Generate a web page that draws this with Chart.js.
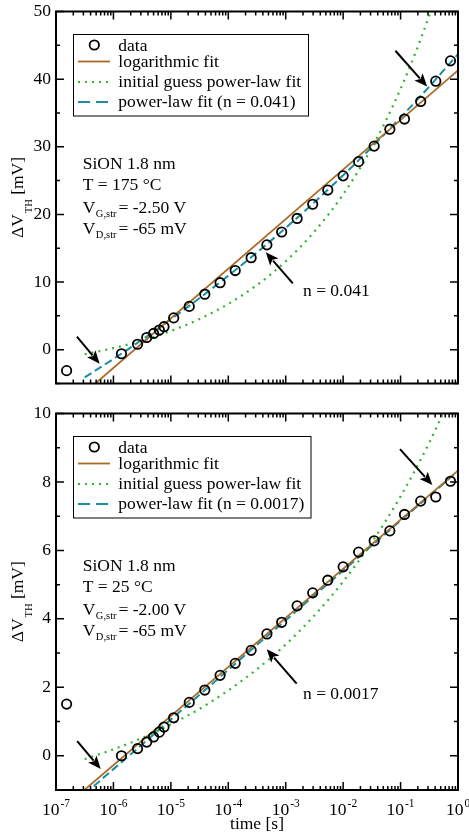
<!DOCTYPE html>
<html>
<head>
<meta charset="utf-8">
<script src="https://cdn.jsdelivr.net/npm/chart.js@4.4.1/dist/chart.umd.min.js"></script>
<style>
  html, body { margin: 0; padding: 0; background: #fff; }
  #wrap { position: relative; width: 469px; height: 836px; overflow: hidden; background: #fff; }
  #wrap canvas { position: absolute; left: 0; }
  #topPanel { top: -4px; }
  #bottomPanel { top: 398px; }
</style>
</head>
<body>
<div id="wrap">
  <canvas id="topPanel" width="469" height="403" style="width:469px;height:403px"></canvas>
  <canvas id="bottomPanel" width="469" height="438" style="width:469px;height:438px"></canvas>
</div>
<script>
// ---- measured threshold-voltage shift ----
const times = [1.53e-7, 1.38e-6, 2.63e-6, 3.8e-6, 5.0e-6, 6.3e-6, 7.6e-6, 1.12e-5, 2.09e-5, 3.9e-5,
               7.2e-5, 1.32e-4, 2.5e-4, 4.7e-4, 8.5e-4, 1.58e-3, 2.95e-3, 5.4e-3, 1.0e-2, 1.86e-2,
               3.47e-2, 6.5e-2, 0.117, 0.224, 0.41, 0.74];
const topData = [-3.1, -0.6, 0.8, 1.8, 2.4, 2.9, 3.4, 4.7, 6.4, 8.2,
                 9.9, 11.7, 13.6, 15.5, 17.4, 19.4, 21.5, 23.6, 25.7, 27.8,
                 30.1, 32.6, 34.1, 36.7, 39.7, 42.7];
const bottomData = [1.51, 0.0, 0.21, 0.40, 0.55, 0.69, 0.84, 1.11, 1.56, 1.92,
                    2.35, 2.70, 3.08, 3.56, 3.90, 4.38, 4.76, 5.13, 5.52, 5.95,
                    6.28, 6.57, 7.05, 7.44, 7.56, 8.02];

// ---- fitted curves ----
const logFitTimes = [3.16e-7, 1];
const topLogFit = [-6.36, 41.3];
const bottomLogFit = [-0.99, 8.33];

const fitTimes = [3.16e-7, 1e-6, 3.16e-6, 1e-5, 3.16e-5, 1e-4, 3.16e-4, 1e-3, 3.16e-3, 1e-2, 3.16e-2, 1e-1, 3.16e-1, 1];
const topGuessFit = [-0.67, 0.23, 1.35, 2.77, 4.54, 6.77, 9.56, 13.06, 17.46, 22.96, 29.88, 38.56, 49.44, 63.1];
const topPowerFit = [-4.09, -1.37, 1.49, 4.49, 7.63, 10.93, 14.38, 18.0, 21.8, 25.78, 29.95, 34.32, 38.9, 43.7];
const bottomGuessFit = [-0.10, 0.19, 0.52, 0.92, 1.37, 1.91, 2.53, 3.25, 4.10, 5.09, 6.24, 7.58, 9.15, 10.98];
const bottomPowerFit = [-1.12, -0.39, 0.33, 1.06, 1.78, 2.51, 3.24, 3.96, 4.69, 5.41, 6.14, 6.87, 7.59, 8.32];

// ---- labels ----
const decadeExponents = ['-7', '-6', '-5', '-4', '-3', '-2', '-1', '0'];
const topNames = ['data', 'logarithmic fit', 'initial guess power-law fit', 'power-law fit (n = 0.041)'];
const bottomNames = ['data', 'logarithmic fit', 'initial guess power-law fit', 'power-law fit (n = 0.0017)'];
const topNotes = ['SiON 1.8 nm', 'T = 175 °C', ['V', 'G,str', '= -2.50 V'], ['V', 'D,str', '= -65 mV']];
const bottomNotes = ['SiON 1.8 nm', 'T = 25 °C', ['V', 'G,str', '= -2.00 V'], ['V', 'D,str', '= -65 mV']];

// arrows: [t from, value from, t to, value to]
const topArrows = [[2.31e-7, 1.92, 5.75e-7, -2.07], [1.33e-3, 9.8, 4.5e-4, 14.4], [0.0813, 44.2, 0.29, 38.9]];
const bottomArrows = [[2.34e-7, 0.425, 6.0e-7, -0.385], [1.55e-3, 2.11, 4.68e-4, 3.11], [0.0977, 8.96, 0.357, 7.91]];
const topExponentNote = { t: 2.0e-3, v: 8.6, text: 'n = 0.041' };
const bottomExponentNote = { t: 2.0e-3, v: 1.78, text: 'n = 0.0017' };

// ---- styling ----
const SERIF = "'Liberation Serif', 'Times New Roman', serif";
const f = px => px + 'px ' + SERIF;
const COL_LOG = '#a86b26';
const COL_GUESS = '#2fb52f';
const COL_POWER = '#1a8da3';
const DASH_GUESS = [2, 5];
const DASH_POWER = [8, 4];

Chart.defaults.font.family = SERIF;
Chart.defaults.color = '#000';

function pts(xs, ys) { return xs.map((x, i) => ({ x: x, y: ys[i] })); }

function drawSubText(ctx, x, y, main, sub, rest, size, subSize, subDrop) {
  ctx.font = f(size);
  ctx.fillText(main, x, y);
  x += ctx.measureText(main).width + 0.5;
  ctx.font = f(subSize);
  ctx.fillText(sub, x, y + subDrop);
  x += ctx.measureText(sub).width + 2;
  ctx.font = f(size);
  ctx.fillText(rest, x, y);
}

function drawArrow(ctx, x0, y0, x1, y1) {
  const ang = Math.atan2(y1 - y0, x1 - x0);
  const L = 13, W = 5.5;
  const c = Math.cos(ang), s = Math.sin(ang);
  const bx = x1 - L * c, by = y1 - L * s;
  ctx.beginPath();
  ctx.moveTo(x0, y0);
  ctx.lineTo(bx + 2 * c, by + 2 * s);
  ctx.stroke();
  ctx.beginPath();
  ctx.moveTo(x1, y1);
  ctx.lineTo(bx - W * s, by + W * c);
  ctx.lineTo(bx + 3 * c, by + 3 * s);
  ctx.lineTo(bx + W * s, by - W * c);
  ctx.closePath();
  ctx.fill();
}

const panelDecor = {
  id: 'panelDecor',
  afterDraw(chart, args, o) {
    const ctx = chart.ctx, a = chart.chartArea;
    const xs = chart.scales.x, ys = chart.scales.y;
    ctx.save();
    ctx.fillStyle = '#000';
    ctx.strokeStyle = '#000';

    // inward tick marks on all four sides
    ctx.lineWidth = 1.5;
    ctx.beginPath();
    for (let d = -7; d <= 0; d++) {
      for (let m = 1; m <= 9; m++) {
        if (d === 0 && m > 1) break;
        const x = xs.getPixelForValue(m * Math.pow(10, d));
        const len = m === 1 ? 8 : 4;
        ctx.moveTo(x, a.bottom); ctx.lineTo(x, a.bottom - len);
        ctx.moveTo(x, a.top); ctx.lineTo(x, a.top + len);
      }
    }
    for (let k = 0; o.yMin + k * o.minor <= o.yMax + 1e-9; k++) {
      const v = o.yMin + k * o.minor;
      const y = ys.getPixelForValue(v);
      const isMajor = Math.abs(Math.round(v / o.major) * o.major - v) < 1e-9;
      const len = isMajor ? 8 : 4;
      ctx.moveTo(a.left, y); ctx.lineTo(a.left + len, y);
      ctx.moveTo(a.right, y); ctx.lineTo(a.right - len, y);
    }
    ctx.stroke();

    // frame
    ctx.lineWidth = 2;
    ctx.strokeRect(a.left, a.top, a.right - a.left, a.bottom - a.top);

    // y axis title (rotated)
    ctx.save();
    ctx.translate(22.5, (a.top + a.bottom) / 2);
    ctx.rotate(-Math.PI / 2);
    ctx.textBaseline = 'alphabetic';
    ctx.font = f(17.5);
    const w1 = ctx.measureText('\u0394V').width;
    ctx.font = f(10.5);
    const w2 = ctx.measureText('TH').width;
    ctx.font = f(17.5);
    const w3 = ctx.measureText(' [mV]').width;
    const tot = w1 + 1 + w2 + w3;
    let tx = -tot / 2;
    ctx.fillText('\u0394V', tx, 0); tx += w1 + 1;
    ctx.font = f(10.5);
    ctx.fillText('TH', tx, 9); tx += w2;
    ctx.font = f(17.5);
    ctx.fillText(' [mV]', tx, 0);
    ctx.restore();

    // time axis labels
    if (o.timeAxis) {
      ctx.textBaseline = 'alphabetic';
      decadeExponents.forEach((e, i) => {
        const x = xs.getPixelForValue(Math.pow(10, i - 7));
        ctx.font = f(17.5);
        const wb = ctx.measureText('10').width;
        ctx.font = f(11.5);
        const we = ctx.measureText(e).width;
        const sx = x - (wb + 1 + we) / 2;
        ctx.font = f(17.5);
        ctx.fillText('10', sx, a.bottom + 25);
        ctx.font = f(11.5);
        ctx.fillText(e, sx + wb + 1, a.bottom + 17);
      });
      ctx.font = f(17.5);
      ctx.textAlign = 'center';
      ctx.fillText('time [s]', (a.left + a.right) / 2, a.bottom + 39);
      ctx.textAlign = 'left';
    }

    // legend box
    const lx = a.left + 16.7, ly = a.top + 22;
    ctx.lineWidth = 1;
    ctx.strokeRect(Math.round(lx) + 0.5, Math.round(ly) + 0.5, o.legendWidth, 81.5);
    const rows = [17, 33, 53.5, 73.5];
    const ds = chart.data.datasets;
    ctx.font = f(17.5);
    ctx.textBaseline = 'alphabetic';
    rows.forEach((r, i) => {
      const by = ly + r;
      const sy = by - 5;
      const d = ds[i];
      if (i === 0) {
        ctx.lineWidth = d.borderWidth;
        ctx.strokeStyle = d.borderColor;
        ctx.beginPath();
        ctx.arc(a.left + 38.3, by - 5.5, d.pointRadius, 0, Math.PI * 2);
        ctx.stroke();
      } else {
        ctx.lineWidth = d.borderWidth;
        ctx.strokeStyle = d.borderColor;
        ctx.setLineDash(i === 3 ? [12, 6] : (d.borderDash || []));
        ctx.beginPath();
        ctx.moveTo(a.left + 22, sy);
        ctx.lineTo(a.left + 54, sy);
        ctx.stroke();
        ctx.setLineDash([]);
      }
      ctx.fillStyle = '#000';
      ctx.fillText(d.label, a.left + 62.3, by);
    });

    // condition notes
    ctx.fillStyle = '#000';
    const nb = [157, 178.7, 201.3, 222.7];
    o.notes.forEach((n, i) => {
      const x = a.left + 26.7, y = a.top + nb[i];
      if (typeof n === 'string') {
        ctx.font = f(17.5);
        ctx.fillText(n, x, y);
      } else {
        drawSubText(ctx, x, y, n[0], n[1], n[2], 17.5, 10.5, 4);
      }
    });

    // arrows
    ctx.strokeStyle = '#000';
    ctx.fillStyle = '#000';
    ctx.lineWidth = 2;
    o.arrows.forEach(ar => {
      drawArrow(ctx,
        xs.getPixelForValue(ar[0]), ys.getPixelForValue(ar[1]),
        xs.getPixelForValue(ar[2]), ys.getPixelForValue(ar[3]));
    });

    // exponent note
    ctx.font = f(17.5);
    ctx.textBaseline = 'middle';
    ctx.fillText(o.expNote.text, xs.getPixelForValue(o.expNote.t), ys.getPixelForValue(o.expNote.v));
    ctx.restore();
  }
};

function makePanel(id, p) {
  return new Chart(document.getElementById(id), {
    type: 'scatter',
    data: {
      datasets: [
        { label: p.names[0], data: pts(times, p.data), showLine: false,
          pointRadius: 4.7, pointBorderWidth: 1.8, borderWidth: 1.8,
          pointBorderColor: '#000', borderColor: '#000', pointBackgroundColor: 'rgba(0,0,0,0)' },
        { label: p.names[1], data: pts(logFitTimes, p.logFit), showLine: true, pointRadius: 0,
          borderColor: COL_LOG, borderWidth: 1.8, clip: 0 },
        { label: p.names[2], data: pts(fitTimes, p.guessFit), showLine: true, pointRadius: 0,
          borderColor: COL_GUESS, borderWidth: 2.2, borderDash: DASH_GUESS,
          cubicInterpolationMode: 'monotone', clip: 0 },
        { label: p.names[3], data: pts(fitTimes, p.powerFit), showLine: true, pointRadius: 0,
          borderColor: COL_POWER, borderWidth: 2, borderDash: DASH_POWER,
          cubicInterpolationMode: 'monotone', clip: 0 }
      ]
    },
    options: {
      responsive: false,
      animation: false,
      devicePixelRatio: 1,
      layout: { padding: p.padding },
      plugins: {
        legend: { display: false },
        tooltip: { enabled: false },
        panelDecor: {
          yMin: p.yMin, yMax: p.yMax, major: p.major, minor: p.minor,
          timeAxis: p.timeAxis, legendWidth: p.legendWidth,
          notes: p.notes, arrows: p.arrows, expNote: p.expNote
        }
      },
      scales: {
        x: { type: 'logarithmic', min: 1e-7, max: 1, display: false },
        y: {
          type: 'linear', position: 'left', min: p.yMin, max: p.yMax,
          grid: { display: false, drawTicks: false },
          border: { display: false },
          ticks: {
            stepSize: p.minor, padding: 5, color: '#000',
            font: { family: SERIF, size: 17.5 },
            callback: v => (Math.abs(Math.round(v / p.major) * p.major - v) < 1e-9 ? String(v) : '')
          },
          afterFit: s => { s.width = 56; }
        }
      }
    },
    plugins: [panelDecor]
  });
}

makePanel('topPanel', {
  data: topData, logFit: topLogFit, guessFit: topGuessFit, powerFit: topPowerFit,
  names: topNames, notes: topNotes, arrows: topArrows, expNote: topExponentNote,
  yMin: -5, yMax: 50, major: 10, minor: 5, timeAxis: false, legendWidth: 235,
  padding: { left: 0, top: 12, right: 11, bottom: 12 }
});

makePanel('bottomPanel', {
  data: bottomData, logFit: bottomLogFit, guessFit: bottomGuessFit, powerFit: bottomPowerFit,
  names: bottomNames, notes: bottomNotes, arrows: bottomArrows, expNote: bottomExponentNote,
  yMin: -1, yMax: 10, major: 2, minor: 1, timeAxis: true, legendWidth: 237.5,
  padding: { left: 0, top: 12, right: 11, bottom: 46 }
});
</script>
</body>
</html>
